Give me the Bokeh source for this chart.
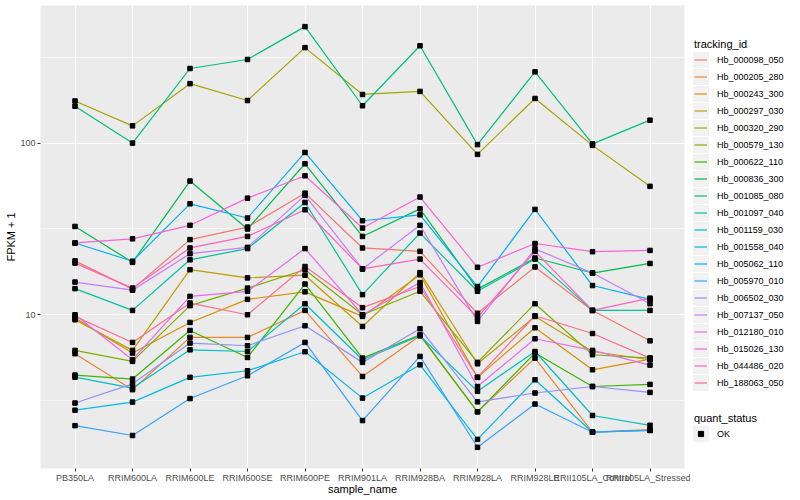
from bokeh.plotting import figure
from bokeh.layouts import row
from bokeh.models import FactorRange, Range1d, FixedTicker, Legend, LegendItem
from bokeh.embed import file_html
from bokeh.resources import INLINE

samples = ["PB350LA", "RRIM600LA", "RRIM600LE", "RRIM600SE", "RRIM600PE", "RRIM901LA",
           "RRIM928BA", "RRIM928LA", "RRIM928LE", "RRII105LA_Control", "RRII105LA_Stressed"]

tracking_ids = ["Hb_000098_050", "Hb_000205_280", "Hb_000243_300", "Hb_000297_030", "Hb_000320_290",
                "Hb_000579_130", "Hb_000622_110", "Hb_000836_300", "Hb_001085_080", "Hb_001097_040",
                "Hb_001159_030", "Hb_001558_040", "Hb_005062_110", "Hb_005970_010", "Hb_006502_030",
                "Hb_007137_050", "Hb_012180_010", "Hb_015026_130", "Hb_044486_020", "Hb_188063_050"]

colors = ["#F8766D", "#EA8331", "#D89000", "#C09B00", "#A3A500", "#7CAE00", "#39B600", "#00BB4E",
          "#00BF7D", "#00C1A3", "#00BFC4", "#00BAE0", "#00B0F6", "#35A2FF", "#9590FF", "#C77CFF",
          "#E76BF3", "#FA62DB", "#FF62BC", "#FF6C91"]

# FPKM + 1 per sample (same order as samples)
hb_000098_050 = [20.6, 14.1, 27.4, 32.4, 51.1, 24.5, 23.4, 10.2, 19.0, 10.6, 7.05]
hb_000205_280 = [5.93, 3.66, 7.38, 7.38, 10.6, 4.37, 7.55, 2.72, 5.59, 2.07, 2.14]
hb_000243_300 = [9.56, 5.98, 9.02, 12.3, 13.6, 9.78, 17.1, 4.32, 8.40, 4.78, 5.52]
hb_000297_030 = [9.35, 6.20, 18.3, 16.4, 17.0, 8.55, 17.6, 5.18, 9.78, 6.11, 5.47]
hb_000320_290 = [176, 126, 222, 177, 360, 192, 200, 86, 182, 97, 56]
hb_000579_130 = [6.20, 5.35, 11.3, 14.3, 18.3, 10.0, 13.7, 5.28, 11.6, 5.85, 5.59]
hb_000622_110 = [4.45, 4.22, 8.10, 5.64, 15.1, 5.59, 7.64, 2.72, 5.98, 3.82, 3.93]
hb_000836_300 = [32.7, 20.2, 60.1, 31.6, 75.8, 28.6, 41.4, 14.1, 21.4, 17.5, 19.9]
hb_001085_080 = [164, 100, 272, 307, 477, 165, 369, 98, 260, 99, 136]
hb_001097_040 = [14.2, 10.6, 20.9, 24.3, 45.1, 13.1, 29.9, 13.7, 21.1, 10.6, 10.6]
hb_001159_030 = [4.33, 3.74, 6.25, 6.11, 11.6, 5.47, 7.55, 3.58, 6.11, 2.59, 2.27]
hb_001558_040 = [2.78, 3.10, 4.32, 4.72, 6.09, 3.27, 5.11, 1.88, 4.18, 2.07, 2.12]
hb_005062_110 = [26.2, 20.5, 44.3, 36.6, 88.2, 35.3, 38.2, 14.6, 41.1, 14.8, 12.3]
hb_005970_010 = [2.26, 1.98, 3.25, 4.41, 6.90, 2.42, 5.72, 1.69, 3.02, 2.07, 2.12]
hb_006502_030 = [3.06, 3.96, 6.84, 6.60, 8.63, 5.28, 8.29, 3.11, 3.50, 3.82, 3.53]
hb_007137_050 = [15.5, 13.9, 22.7, 24.7, 49.6, 18.5, 33.2, 9.15, 24.2, 17.5, 11.6]
hb_012180_010 = [10.0, 5.47, 12.8, 13.7, 24.3, 10.0, 15.4, 3.82, 7.25, 6.20, 5.09]
hb_015026_130 = [26.2, 27.7, 33.2, 47.8, 64.5, 32.0, 48.5, 18.9, 26.0, 23.3, 23.7]
hb_044486_020 = [20.0, 14.3, 24.5, 28.6, 40.9, 18.5, 21.1, 9.65, 23.4, 10.6, 12.5]
hb_188063_050 = [9.78, 6.90, 11.7, 10.0, 19.1, 11.0, 14.6, 4.32, 9.87, 7.78, 5.59]

series = [hb_000098_050, hb_000205_280, hb_000243_300, hb_000297_030, hb_000320_290,
          hb_000579_130, hb_000622_110, hb_000836_300, hb_001085_080, hb_001097_040,
          hb_001159_030, hb_001558_040, hb_005062_110, hb_005970_010, hb_006502_030,
          hb_007137_050, hb_012180_010, hb_015026_130, hb_044486_020, hb_188063_050]

quant_status = ["OK"]

FONT = "Liberation Sans"
TOP, BOTTOM = 5, 32
H = 500

p = figure(width=690, height=H,
           x_range=FactorRange(factors=samples, range_padding=0.1, range_padding_units="absolute"),
           y_range=Range1d(10 ** 0.1044, 10 ** 2.8016), y_axis_type="log",
           output_backend="svg", toolbar_location=None,
           min_border_left=40, min_border_right=6, min_border_top=TOP, min_border_bottom=BOTTOM)

p.background_fill_color = "#EBEBEB"
p.border_fill_color = "white"
p.outline_line_color = None

p.xgrid.grid_line_color = "white"
p.xgrid.grid_line_width = 1.1
p.ygrid.grid_line_color = "white"
p.ygrid.grid_line_width = 1.1
p.ygrid.minor_grid_line_color = "white"
p.ygrid.minor_grid_line_width = 0.55

p.yaxis.ticker = FixedTicker(ticks=[10, 100], minor_ticks=[10 ** 0.5, 10 ** 1.5, 10 ** 2.5])
p.yaxis.major_label_overrides = {10: "10", 100: "100"}

for ax in (p.xaxis[0], p.yaxis[0]):
    ax.axis_line_color = None
    ax.major_tick_line_color = "#333333"
    ax.major_tick_out = 3
    ax.major_tick_in = 0
    ax.minor_tick_line_color = None
    ax.major_label_text_font = FONT
    ax.major_label_text_font_size = "9px"
    ax.major_label_text_color = "#4D4D4D"
    ax.major_label_standoff = 1
    ax.axis_label_text_font = FONT
    ax.axis_label_text_font_size = "11px"
    ax.axis_label_text_font_style = "normal"
    ax.axis_label_text_color = "black"

p.xaxis.axis_label_standoff = -3
p.yaxis.axis_label_standoff = 0
p.xaxis.axis_label = "sample_name"
p.yaxis.axis_label = "FPKM + 1"

for col, vals in zip(colors, series):
    p.line(x=samples, y=vals, line_color=col, line_width=1.2)

all_x = [s for vals in series for s in samples]
all_y = [v for vals in series for v in vals]
p.scatter(x=all_x, y=all_y, marker="square", size=4.5, color="black")

# legend panel (separate figure to the right); its y range is in page pixels
q = figure(width=110, height=H, x_range=Range1d(0, 110), y_range=Range1d(H - BOTTOM, TOP),
           output_backend="svg", toolbar_location=None, x_axis_location=None, y_axis_location=None,
           min_border_left=0, min_border_right=0, min_border_top=TOP, min_border_bottom=BOTTOM)
q.outline_line_color = None
q.grid.visible = False
q.background_fill_color = "white"
q.border_fill_color = "white"

ITEM_H = 17
first_center = 59.5
n = len(tracking_ids)
ok_center = 433.5
key_y = [first_center + ITEM_H * i for i in range(n)] + [ok_center]
q.rect(x=[10.5] * len(key_y), y=key_y, width=16, height=16, fill_color="#F2F2F2", line_color=None)

items = []
for tid, col in zip(tracking_ids, colors):
    r = q.line(x=[-60, -50], y=[-60, -60], line_color=col, line_width=1.2)
    items.append(LegendItem(label=tid, renderers=[r]))
dummy = q.scatter(x=[-60], y=[-60], marker="square", size=5, color="black")


def style_legend(lg):
    lg.title_text_font = FONT
    lg.title_text_font_size = "11px"
    lg.title_text_font_style = "normal"
    lg.title_text_color = "black"
    lg.title_standoff = 1
    lg.label_text_font = FONT
    lg.label_text_font_size = "9px"
    lg.label_text_color = "black"
    lg.label_height = ITEM_H
    lg.glyph_height = ITEM_H
    lg.glyph_width = 13
    lg.label_standoff = 10
    lg.spacing = 0
    lg.padding = 0
    lg.margin = 0
    lg.background_fill_alpha = 0
    lg.border_line_alpha = 0


frame_bottom = H - BOTTOM
bottom1 = first_center + ITEM_H * (n - 1) + ITEM_H / 2
leg1 = Legend(items=items, title="tracking_id", location=(4, int(round(frame_bottom - bottom1))))
style_legend(leg1)
q.add_layout(leg1, "center")

leg2 = Legend(items=[LegendItem(label=quant_status[0], renderers=[dummy])], title="quant_status",
              location=(4, int(round(frame_bottom - (ok_center + ITEM_H / 2)))))
style_legend(leg2)
q.add_layout(leg2, "center")

open("out.html", "w").write(file_html(row(p, q), INLINE))
